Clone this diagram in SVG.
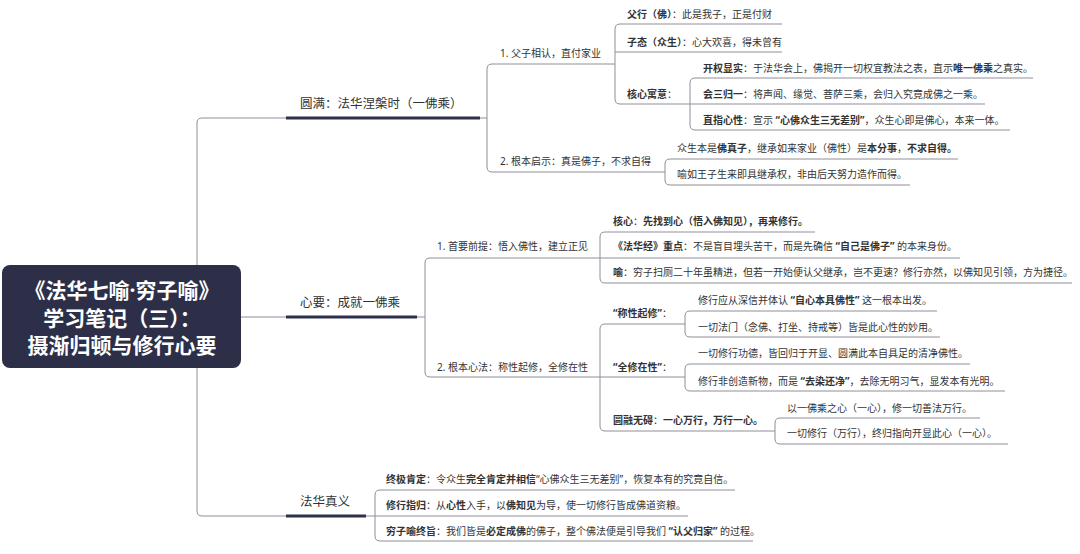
<svg xmlns="http://www.w3.org/2000/svg" width="1080" height="554" viewBox="0 0 1080 554">
<style>
text{font-family:"Noto Sans","Noto Sans CJK SC",sans-serif;fill:#333}
.t{font-size:10px}
.m{font-size:12.5px}
.b{font-weight:bold}
.ln{fill:none;stroke:#8e8e99;stroke-width:1}
.th{fill:none;stroke:#2f304d;stroke-width:3}
.root text{fill:#fff;font-size:21px;font-weight:bold}
</style>
<rect width="1080" height="554" fill="#fff"/>
<g id="connectors">
<path class="ln" d="M286,118 H202 Q197,118 197,123 V511 Q197,516 202,516 H286"/>
<path class="ln" d="M241,317 H286"/>
<path class="ln" d="M480,118 H487"/>
<path class="ln" d="M417,317 H425"/>
<path class="ln" d="M366,516 H375"/>
<path class="th" d="M286,118 H480"/>
<path class="th" d="M286,317 H417"/>
<path class="th" d="M286,516 H366"/>
<path class="ln" d="M615,64 H492 Q487,64 487,69 V167 Q487,172 492,172 H665"/>
<path class="ln" d="M782,24 H620 Q615,24 615,29 V99 Q615,104 620,104 H985"/>
<path class="ln" d="M615,52 H782"/>
<path class="ln" d="M1033,78 H695 Q690,78 690,83 V125 Q690,130 695,130 H1010"/>
<path class="ln" d="M958,159 H670 Q665,159 665,164 V180 Q665,185 670,185 H910"/>
<path class="ln" d="M600,258 H430 Q425,258 425,263 V372 Q425,377 430,377 H600"/>
<path class="ln" d="M815,232 H605 Q600,232 600,237 V278 Q600,283 605,283 H1072"/>
<path class="ln" d="M600,258 H960"/>
<path class="ln" d="M685,324 H605 Q600,324 600,329 V426 Q600,431 605,431 H775"/>
<path class="ln" d="M600,377 H685"/>
<path class="ln" d="M937,311 H690 Q685,311 685,316 V332 Q685,337 690,337 H940"/>
<path class="ln" d="M970,364 H690 Q685,364 685,369 V386 Q685,391 690,391 H1005"/>
<path class="ln" d="M980,418 H780 Q775,418 775,423 V439 Q775,444 780,444 H1008"/>
<path class="ln" d="M735,490 H380 Q375,490 375,495 V536 Q375,541 380,541 H753"/>
<path class="ln" d="M375,516 H688"/>
</g>
<g id="root" class="root">
<rect x="2" y="265" width="239" height="103" rx="8" fill="#2d2f48"/>
<text x="122" y="298" text-anchor="middle">《法华七喻·穷子喻》</text>
<text x="122" y="326" text-anchor="middle">学习笔记（三）：</text>
<text x="122" y="353" text-anchor="middle">摄渐归顿与修行心要</text>
</g>
<g id="b1"><text class="m" x="300" y="108">圆满：法华涅槃时（一佛乘）</text></g>
<g id="b1-1"><text class="t" x="500" y="57">1. 父子相认，直付家业</text></g>
<g id="b1-1a"><text class="t" x="627" y="18"><tspan class="b">父行（佛）</tspan>：此是我子，正是付财</text></g>
<g id="b1-1b"><text class="t" x="627" y="46"><tspan class="b">子态（众生）</tspan>：心大欢喜，得未曾有</text></g>
<g id="b1-1c"><text class="t" x="627" y="98"><tspan class="b">核心寓意</tspan>：</text></g>
<g id="b1-1c1"><text class="t" x="703" y="72"><tspan class="b">开权显实</tspan>：于法华会上，佛揭开一切权宜教法之表，直示<tspan class="b">唯一佛乘</tspan>之真实。</text></g>
<g id="b1-1c2"><text class="t" x="703" y="98"><tspan class="b">会三归一</tspan>：将声闻、缘觉、菩萨三乘，会归入究竟成佛之一乘。</text></g>
<g id="b1-1c3"><text class="t" x="703" y="124"><tspan class="b">直指心性</tspan>：宣示 <tspan class="b">“心佛众生三无差别”</tspan>，众生心即是佛心，本来一体。</text></g>
<g id="b1-2"><text class="t" x="500" y="165">2. 根本启示：真是佛子，不求自得</text></g>
<g id="b1-2a"><text class="t" x="677" y="152">众生本是<tspan class="b">佛真子</tspan>，继承如来家业（佛性）是<tspan class="b">本分事</tspan>，<tspan class="b">不求自得。</tspan></text></g>
<g id="b1-2b"><text class="t" x="677" y="178">喻如王子生来即具继承权，非由后天努力造作而得。</text></g>
<g id="b2"><text class="m" x="300" y="307">心要：成就一佛乘</text></g>
<g id="b2-1"><text class="t" x="437" y="250">1. 首要前提：悟入佛性，建立正见</text></g>
<g id="b2-1a"><text class="t" x="613" y="225"><tspan class="b">核心</tspan>：<tspan class="b">先找到心（悟入佛知见），再来修行。</tspan></text></g>
<g id="b2-1b"><text class="t" x="613" y="250"><tspan class="b">《法华经》重点</tspan>：不是盲目埋头苦干，而是先确信 <tspan class="b">“自己是佛子”</tspan> 的本来身份。</text></g>
<g id="b2-1c"><text class="t" x="613" y="276"><tspan class="b">喻</tspan>：穷子扫厕二十年虽精进，但若一开始便认父继承，岂不更速？修行亦然，以佛知见引领，方为捷径。</text></g>
<g id="b2-2"><text class="t" x="437" y="371">2. 根本心法：称性起修，全修在性</text></g>
<g id="b2-2a"><text class="t" x="613" y="317"><tspan class="b">“称性起修”</tspan>：</text></g>
<g id="b2-2a1"><text class="t" x="698" y="304">修行应从深信并体认 <tspan class="b">“自心本具佛性”</tspan> 这一根本出发。</text></g>
<g id="b2-2a2"><text class="t" x="698" y="331">一切法门（念佛、打坐、持戒等）皆是此心性的妙用。</text></g>
<g id="b2-2b"><text class="t" x="613" y="371"><tspan class="b">“全修在性”</tspan>：</text></g>
<g id="b2-2b1"><text class="t" x="698" y="357">一切修行功德，皆回归于开显、圆满此本自具足的清净佛性。</text></g>
<g id="b2-2b2"><text class="t" x="698" y="385">修行非创造新物，而是 <tspan class="b">“去染还净”</tspan>，去除无明习气，显发本有光明。</text></g>
<g id="b2-2c"><text class="t" x="613" y="424"><tspan class="b">圆融无碍</tspan>：<tspan class="b">一心万行，万行一心。</tspan></text></g>
<g id="b2-2c1"><text class="t" x="787" y="412">以一佛乘之心（一心），修一切善法万行。</text></g>
<g id="b2-2c2"><text class="t" x="787" y="437">一切修行（万行），终归指向开显此心（一心）。</text></g>
<g id="b3"><text class="m" x="300" y="506">法华真义</text></g>
<g id="b3a"><text class="t" x="386" y="483"><tspan class="b">终极肯定</tspan>：令众生<tspan class="b">完全肯定并相信</tspan>“心佛众生三无差别”，恢复本有的究竟自信。</text></g>
<g id="b3b"><text class="t" x="386" y="509"><tspan class="b">修行指归</tspan>：从<tspan class="b">心性</tspan>入手，以<tspan class="b">佛知见</tspan>为导，使一切修行皆成佛道资粮。</text></g>
<g id="b3c"><text class="t" x="386" y="535"><tspan class="b">穷子喻终旨</tspan>：我们皆是<tspan class="b">必定成佛</tspan>的佛子，整个佛法便是引导我们 <tspan class="b">“认父归家”</tspan> 的过程。</text></g>
</svg>
